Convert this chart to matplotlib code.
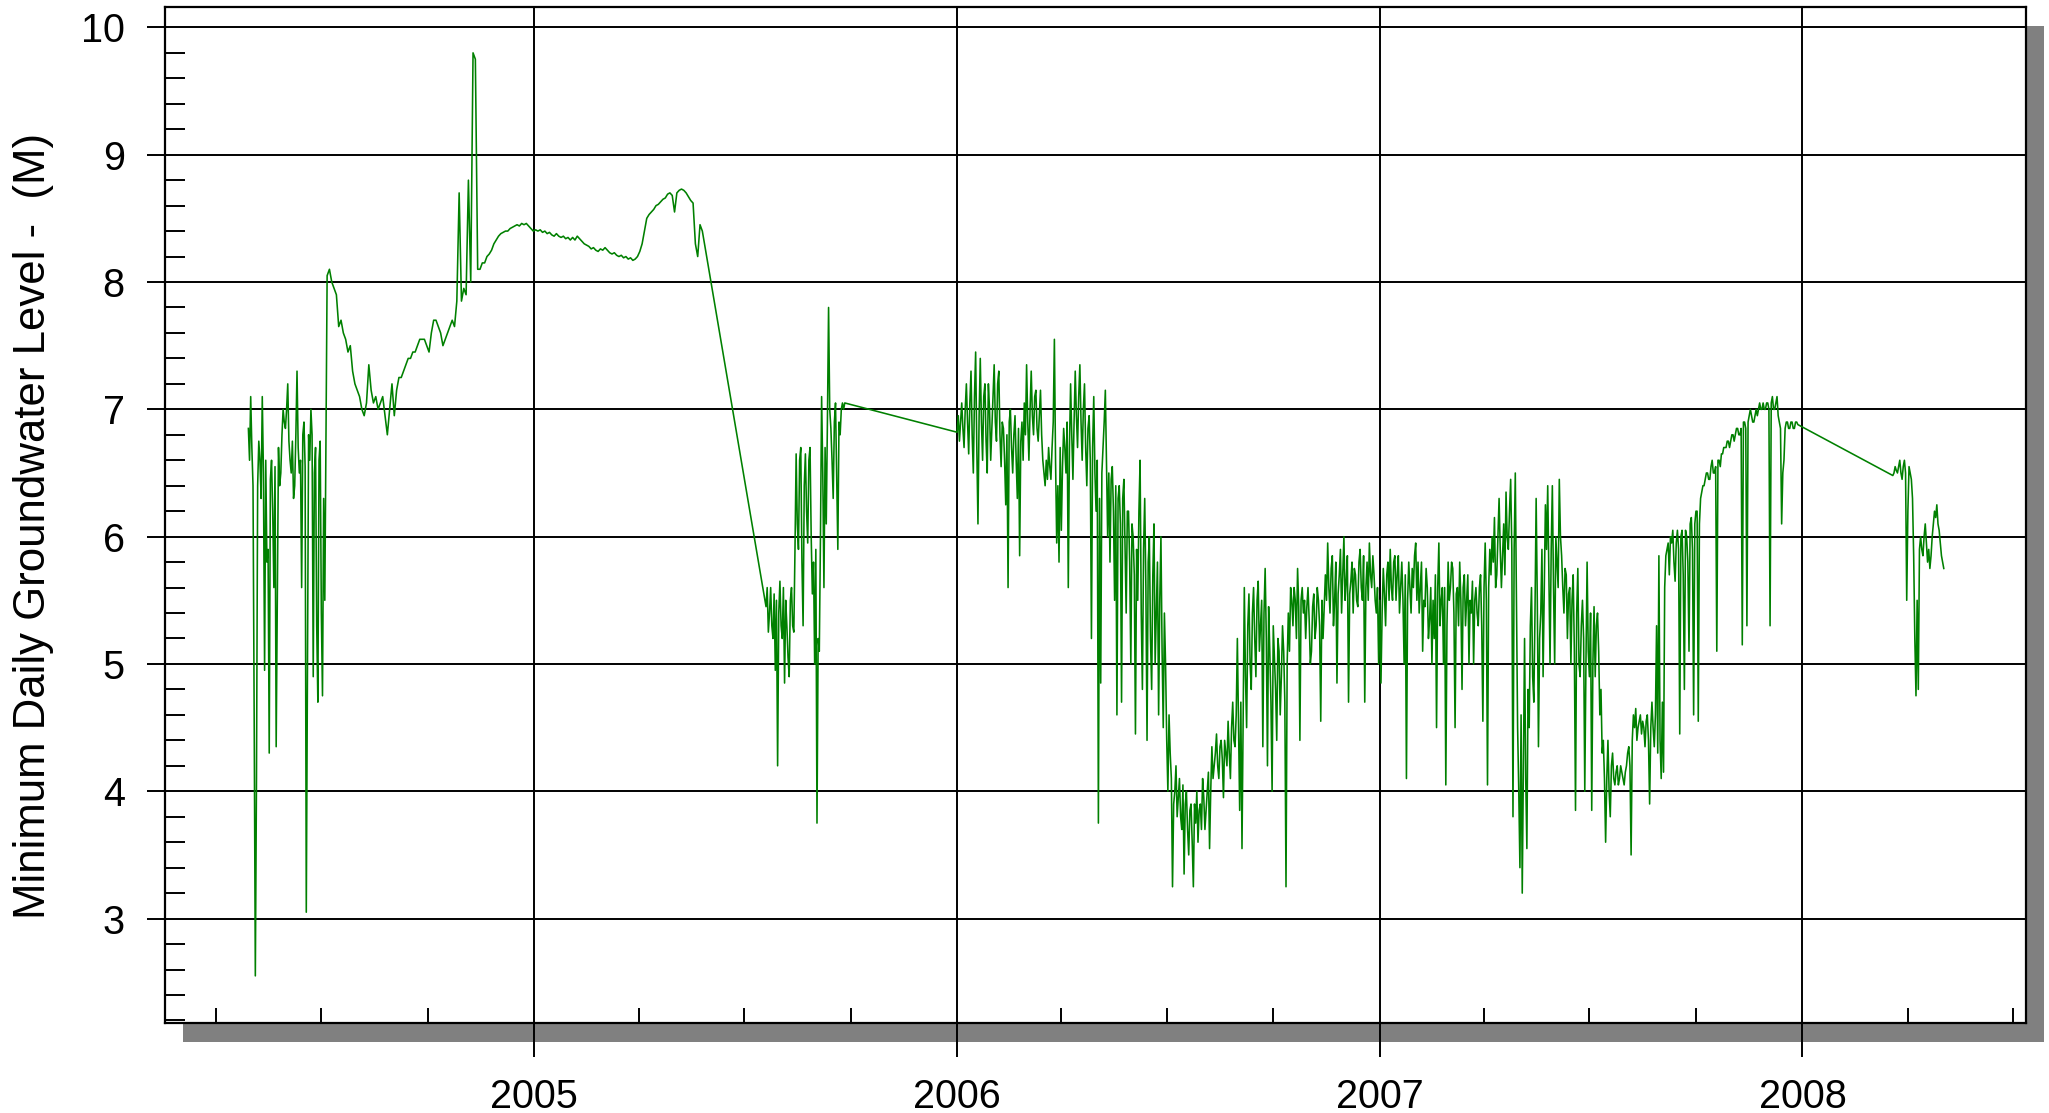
import numpy as np
import matplotlib
matplotlib.use("Agg")
import matplotlib.pyplot as plt
import matplotlib.dates as mdates
from matplotlib.patches import Rectangle
from matplotlib.ticker import MultipleLocator

plt.rcParams['font.family'] = ['Liberation Sans', 'DejaVu Sans']

# --- data: minimum daily groundwater level (m) ---
# noisy parts: values on even days + values on the odd days in between

# spring 2004
seg_a1_start = '2004-04-29'
seg_a1_even = [6.85, 7.1, 6.4, 2.55, 6.4, 6.6, 7.1, 4.95, 5.8, 4.3,
               6.6, 5.6, 4.35, 6.7, 6.5, 7.0, 6.85, 7.2, 6.6, 6.75,
               6.4, 7.3, 6.5, 5.6, 6.9, 3.05, 6.8, 7.0, 4.9, 6.7,
               4.7, 6.75, 4.75, 5.5]
seg_a1_odd = [6.6, 6.7, 4.6, 4.1, 6.75, 6.3, 6.5, 6.6, 5.9, 6.45,
              6.2, 6.55, 5.5, 6.4, 6.8, 6.9, 7.0, 6.75, 6.5, 6.3,
              6.8, 6.7, 6.6, 6.8, 6.55, 5.0, 6.6, 6.8, 6.5, 5.3,
              6.6, 5.4, 6.3]

# Jul 2004 - May 2005, smooth, every 2nd day
seg_a2_start = '2004-07-06'
seg_a2 = [8.05, 8.1, 8.0, 7.95, 7.9, 7.65, 7.7, 7.6, 7.55, 7.45,
          7.5, 7.3, 7.2, 7.15, 7.1, 7.0, 6.95, 7.05, 7.35, 7.15,
          7.05, 7.1, 7.0, 7.05, 7.1, 6.95, 6.8, 7.0, 7.2, 6.95,
          7.15, 7.25, 7.25, 7.3, 7.35, 7.4, 7.4, 7.45, 7.45, 7.5,
          7.55, 7.55, 7.55, 7.5, 7.45, 7.6, 7.7, 7.7, 7.65, 7.6,
          7.5, 7.55, 7.6, 7.65, 7.7, 7.65, 7.85, 8.7, 7.85, 7.95,
          7.9, 8.8, 8.0, 9.8, 9.75, 8.1, 8.1, 8.15, 8.15, 8.2,
          8.22, 8.25, 8.3, 8.33, 8.36, 8.38, 8.39, 8.4, 8.4, 8.42,
          8.43, 8.44, 8.45, 8.44, 8.46, 8.45, 8.46, 8.44, 8.42, 8.4,
          8.41, 8.4, 8.41, 8.39, 8.4, 8.38, 8.39, 8.37, 8.36, 8.38,
          8.36, 8.35, 8.36, 8.34, 8.35, 8.33, 8.35, 8.33, 8.36, 8.34,
          8.32, 8.3, 8.29, 8.28, 8.26, 8.27, 8.25, 8.24, 8.26, 8.25,
          8.27, 8.25, 8.23, 8.22, 8.23, 8.21, 8.2, 8.21, 8.19, 8.2,
          8.18, 8.19, 8.17, 8.18, 8.2, 8.24, 8.3, 8.4, 8.5, 8.53,
          8.55, 8.57, 8.6, 8.61, 8.63, 8.65, 8.66, 8.69, 8.7, 8.68,
          8.55, 8.7, 8.72, 8.73, 8.72, 8.7, 8.67, 8.64, 8.62, 8.3,
          8.2, 8.45, 8.4]

# summer 2005
seg_b_start = '2005-07-20'
seg_b_even = [5.45, 5.25, 5.6, 5.2, 4.95, 4.2, 5.65, 5.2, 4.85, 5.3,
              4.9, 5.6, 5.25, 6.65, 5.9, 6.7, 5.3, 6.65, 5.95, 6.7,
              5.55, 5.0, 3.75, 5.1, 7.1, 5.6, 6.1, 7.8, 6.85, 6.3,
              7.05, 5.9, 6.8, 7.05, 7.05]
seg_b_odd = [5.6, 5.4, 5.3, 5.55, 5.5, 5.4, 5.3, 5.6, 5.5, 5.05,
             5.5, 5.3, 5.9, 6.1, 6.6, 5.8, 6.4, 6.2, 6.6, 6.0,
             5.8, 5.9, 5.2, 6.0, 6.5, 6.7, 6.9, 7.0, 6.6, 6.9,
             6.5, 6.9, 7.0, 7.0]

# 2006 - 2007
seg_c_start = '2006-01-01'
seg_c_even = [6.82, 6.75, 7.05, 6.7, 7.2, 6.65, 7.3, 6.5, 7.45, 6.1,
              7.4, 6.6, 7.2, 6.5, 7.0, 6.85, 7.35, 6.75, 7.3, 6.55,
              6.85, 6.25, 5.6, 7.0, 6.5, 6.95, 6.3, 5.85, 6.9, 7.05,
              7.35, 6.6, 7.3, 6.8, 7.15, 6.75, 7.15, 6.6, 6.4, 6.45,
              6.55, 6.7, 7.55, 5.95, 5.8, 6.05, 6.85, 6.5, 5.6, 7.2,
              6.45, 7.3, 6.7, 7.35, 6.6, 7.2, 6.4, 6.95, 5.2, 7.1,
              6.2, 3.75, 4.85, 6.7, 7.15, 6.0, 5.8, 6.55, 5.5, 4.6,
              6.4, 4.7, 6.45, 5.4, 6.2, 5.0, 6.0, 4.45, 5.5, 6.6,
              4.8, 6.3, 4.4, 6.0, 4.8, 6.1, 5.4, 4.6, 6.0, 4.5,
              5.0, 4.0, 4.3, 3.25, 4.0, 3.8, 4.1, 3.7, 3.35, 4.0,
              3.5, 3.9, 3.25, 3.75, 3.6, 3.9, 4.1, 3.7, 4.0, 3.55,
              4.35, 4.2, 4.45, 4.1, 4.4, 3.95, 4.3, 4.55, 4.1, 4.7,
              4.35, 5.2, 3.85, 3.55, 5.6, 4.5, 5.55, 4.8, 5.6, 4.9,
              5.65, 5.3, 4.35, 5.75, 4.2, 5.1, 4.0, 5.05, 4.4, 5.1,
              4.9, 5.1, 3.25, 5.4, 5.6, 5.3, 5.5, 5.75, 4.4, 5.6,
              5.5, 5.45, 5.35, 5.1, 5.55, 5.3, 5.5, 4.55, 5.2, 5.7,
              5.95, 5.4, 5.85, 5.5, 4.85, 5.7, 5.4, 6.0, 5.65, 4.7,
              5.65, 5.4, 5.7, 5.45, 5.9, 5.5, 4.7, 5.8, 5.95, 5.6,
              5.7, 5.4, 5.0, 4.85, 5.75, 5.3, 5.8, 5.9, 5.5, 5.85,
              5.7, 5.4, 5.8, 5.0, 4.1, 5.8, 5.4, 5.6, 5.95, 5.8,
              5.6, 5.1, 5.45, 5.6, 5.35, 5.0, 5.2, 4.5, 5.95, 5.5,
              5.0, 4.05, 5.8, 5.6, 5.75, 4.5, 5.6, 5.8, 4.8, 5.7,
              5.5, 5.0, 5.4, 5.0, 5.6, 5.3, 5.7, 4.55, 5.95, 4.05,
              5.9, 6.0, 6.15, 5.7, 6.3, 5.6, 6.1, 6.35, 5.9, 6.45,
              3.8, 6.5, 4.5, 3.4, 3.2, 5.2, 3.55, 4.5, 5.6, 4.7,
              6.3, 4.35, 5.4, 4.9, 6.25, 6.4, 5.0, 6.4, 5.0, 5.8,
              6.45, 5.85, 5.4, 5.7, 5.55, 5.0, 5.7, 3.85, 5.75, 4.9,
              5.5, 4.0, 5.8, 4.9, 3.85, 5.45, 5.3, 5.1, 4.8, 4.4,
              3.6, 4.4, 3.8, 4.3, 4.05, 4.2, 4.1, 4.15, 4.05, 4.2,
              4.35, 3.5, 4.6, 4.65, 4.5, 4.6, 4.55, 4.35, 4.6, 3.9,
              4.7, 4.35, 5.3, 5.85, 4.1, 4.15, 5.85, 5.95, 6.0, 6.05,
              5.65, 6.05, 4.45, 6.05, 4.8, 6.0, 5.1, 6.15, 4.6, 6.2,
              4.55, 6.3, 6.4, 6.45, 6.5, 6.45, 6.6, 6.5, 5.1, 6.6,
              6.65, 6.7, 6.7, 6.75, 6.75, 6.8, 6.8, 6.85, 6.8, 5.15,
              6.9, 5.3, 6.95, 6.95, 6.9, 7.0, 7.0, 7.0, 7.05, 7.0,
              7.05, 5.3, 7.1, 7.0, 7.1, 6.9, 6.1, 6.6, 6.9, 6.85,
              6.9, 6.85, 6.9, 6.88]
seg_c_odd = [6.95, 6.9, 6.85, 7.0, 6.9, 7.05, 6.8, 7.1, 6.7, 6.95,
             6.9, 7.1, 6.75, 7.2, 6.6, 7.1, 6.9, 7.2, 6.8, 6.9,
             6.6, 6.8, 6.9, 6.7, 6.8, 6.6, 6.85, 6.75, 6.6, 6.8,
             6.9, 7.0, 6.95, 7.1, 6.85, 6.95, 6.8, 6.5, 6.6, 6.7,
             6.45, 6.9, 6.6, 6.4, 6.7, 6.55, 6.7, 6.9, 6.7, 6.8,
             6.9, 6.95, 7.1, 6.9, 7.0, 6.7, 6.85, 6.6, 6.7, 6.5,
             6.6, 6.3, 6.5, 6.9, 6.6, 6.5, 6.45, 6.2, 6.4, 6.3,
             6.1, 6.3, 5.9, 6.2, 5.8, 6.1, 5.7, 5.9, 6.2, 5.4,
             5.9, 5.6, 5.8, 5.2, 5.7, 5.0, 5.8, 5.5, 5.1, 5.4,
             4.4, 4.6, 4.1, 3.9, 4.2, 3.95, 3.8, 4.05, 3.9, 3.7,
             3.85, 3.6, 3.9, 4.0, 3.85, 3.7, 3.95, 3.85, 4.15, 4.0,
             4.1, 4.3, 4.2, 4.35, 4.25, 4.4, 4.2, 4.3, 4.5, 4.4,
             4.6, 4.5, 4.7, 4.6, 4.9, 5.3, 5.0, 5.4, 5.2, 5.5,
             5.1, 5.5, 5.4, 5.2, 5.45, 4.7, 5.3, 4.8, 5.2, 4.6,
             5.3, 4.7, 5.0, 5.1, 5.5, 5.6, 5.2, 5.45, 5.5, 5.4,
             5.2, 5.6, 5.0, 5.45, 5.2, 5.6, 5.3, 5.5, 5.45, 5.5,
             5.6, 5.75, 5.3, 5.8, 5.55, 5.9, 5.7, 5.5, 5.85, 5.55,
             5.8, 5.75, 5.5, 5.8, 5.6, 5.85, 5.6, 5.5, 5.7, 5.85,
             5.5, 5.6, 5.5, 5.4, 5.55, 5.7, 5.5, 5.6, 5.8, 5.5,
             5.85, 5.6, 5.5, 5.7, 5.5, 5.6, 5.75, 5.85, 5.5, 5.4,
             5.8, 5.5, 5.75, 5.2, 5.6, 5.5, 5.7, 5.6, 5.3, 5.6,
             5.6, 5.3, 5.5, 5.8, 5.4, 5.55, 5.3, 5.5, 5.6, 5.3,
             5.7, 5.5, 5.65, 5.5, 5.4, 5.6, 5.3, 5.6, 5.5, 5.6,
             5.7, 5.8, 5.6, 6.0, 5.9, 5.85, 5.7, 6.0, 6.2, 5.9,
             5.9, 5.5, 4.0, 4.6, 4.2, 4.1, 4.8, 5.3, 4.9, 5.4,
             5.5, 5.2, 5.9, 5.6, 5.9, 5.7, 5.9, 5.6, 6.0, 5.6,
             6.0, 5.6, 5.75, 5.2, 5.6, 5.5, 5.1, 5.4, 5.0, 5.3,
             5.2, 5.0, 5.1, 5.4, 5.0, 4.9, 5.4, 4.6, 4.3, 4.1,
             4.1, 4.0, 4.2, 4.1, 4.15, 4.05, 4.2, 4.1, 4.15, 4.3,
             4.2, 4.4, 4.5, 4.4, 4.55, 4.45, 4.5, 4.55, 4.4, 4.5,
             4.5, 4.6, 4.3, 4.4, 4.7, 5.6, 5.9, 5.7, 5.95, 5.8,
             5.95, 5.9, 6.0, 5.7, 6.05, 5.8, 6.1, 5.9, 6.1, 6.2,
             6.1, 6.35, 6.4, 6.5, 6.45, 6.55, 6.5, 6.55, 6.6, 6.55,
             6.65, 6.7, 6.75, 6.7, 6.8, 6.75, 6.85, 6.8, 6.85, 6.9,
             6.85, 6.9, 7.0, 6.9, 6.95, 6.95, 7.05, 7.0, 7.0, 7.05,
             7.0, 7.05, 7.0, 7.05, 6.95, 6.85, 6.5, 6.85, 6.9, 6.85,
             6.9, 6.85, 6.9]

# spring 2008
seg_d_start = '2008-03-19'
seg_d_even = [6.48, 6.55, 6.5, 6.6, 6.45, 6.6, 5.5, 6.55, 6.45, 5.85,
              4.75, 4.8, 6.0, 5.85, 6.1, 5.8, 5.75, 6.0, 6.2, 6.25,
              6.05, 5.85, 5.75]
seg_d_odd = [6.5, 6.52, 6.55, 6.5, 6.55, 6.5, 6.2, 6.5, 6.3, 5.2,
             5.5, 5.9, 5.9, 6.0, 5.95, 5.9, 5.85, 6.1, 6.15, 6.1,
             5.95, 5.8]

y_label = 'Minimum Daily Groundwater Level -  (M)'


def every_other_day(start, vals):
    return np.datetime64(start) + np.arange(len(vals)) * np.timedelta64(2, 'D')


def daily(start, even, odd):
    vals = np.empty(len(even) + len(odd))
    vals[0::2] = even
    vals[1::2] = odd
    days = np.datetime64(start) + np.arange(len(vals)) * np.timedelta64(1, 'D')
    return days, vals


a1_t, a1_v = daily(seg_a1_start, seg_a1_even, seg_a1_odd)
b_t, b_v = daily(seg_b_start, seg_b_even, seg_b_odd)
c_t, c_v = daily(seg_c_start, seg_c_even, seg_c_odd)
d_t, d_v = daily(seg_d_start, seg_d_even, seg_d_odd)

dates = np.concatenate([a1_t, every_other_day(seg_a2_start, seg_a2), b_t, c_t, d_t])
levels = np.concatenate([a1_v, seg_a2, b_v, c_v, d_v])

W, H = 2049, 1113
fig = plt.figure(figsize=(W / 100, H / 100), dpi=100)
fig.patch.set_facecolor('white')

# plot box in pixels
left, right, top, bottom = 165, 2026, 7, 1023
ax = fig.add_axes([left / W, 1 - bottom / H, (right - left) / W, (bottom - top) / H])

# drop shadow
shadow = Rectangle(((left + 18) / W, 1 - (bottom + 19) / H), (right - left) / W, (bottom - top) / H,
                   transform=fig.transFigure, facecolor='#808080', edgecolor='none', zorder=-5)
fig.patches.append(shadow)

ax.plot(dates, levels, color='#008000', lw=1.15, zorder=3)

ax.set_xlim(np.datetime64('2004-02-17'), np.datetime64('2008-07-12'))
ax.set_ylim(2.18, 10.16)

ax.xaxis.set_major_locator(mdates.YearLocator())
ax.xaxis.set_major_formatter(mdates.DateFormatter('%Y'))
ax.xaxis.set_minor_locator(mdates.MonthLocator(bymonth=[4, 7, 10]))
ax.yaxis.set_major_locator(MultipleLocator(1))
ax.yaxis.set_minor_locator(MultipleLocator(0.2))

ax.grid(True, which='major', color='black', lw=1.4)
ax.set_axisbelow(True)
for s in ax.spines.values():
    s.set_linewidth(1.6)
    s.set_color('black')

ax.tick_params(axis='y', which='major', direction='out', length=13, width=1.4,
               labelsize=28.5, pad=16)
ax.tick_params(axis='y', which='minor', direction='in', length=14.4, width=1.4)
ax.tick_params(axis='x', which='major', direction='out', length=24.5, width=1.4,
               labelsize=28.5, pad=15)
ax.tick_params(axis='x', which='minor', direction='in', length=11, width=1.4)

fig.text(34 / W, 1 - 526 / H, y_label, rotation=90, ha='center', va='center', fontsize=31.5)

fig.savefig('out.png', dpi=100, facecolor='white')
